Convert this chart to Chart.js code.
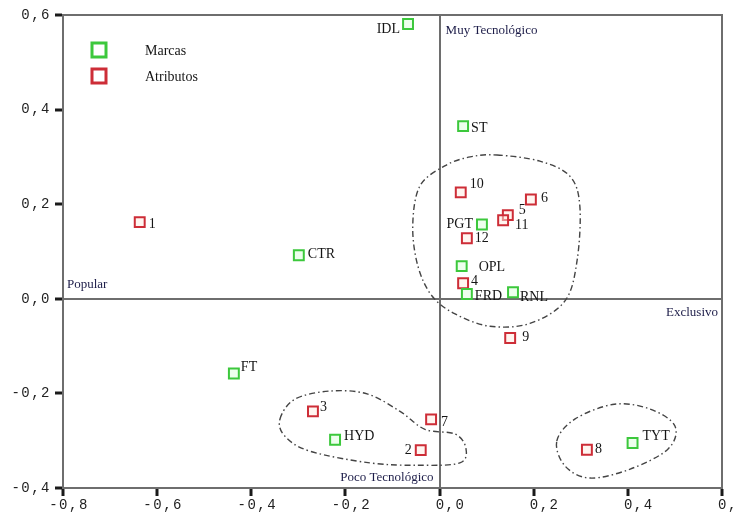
<!DOCTYPE html>
<html>
<head>
<meta charset="utf-8">
<script src="https://cdn.jsdelivr.net/npm/chart.js@4/dist/chart.umd.min.js"></script>
<style>
  html, body { margin: 0; padding: 0; background: #fff; }
</style>
</head>
<body>
<canvas id="mapa" width="734" height="518"></canvas>
<script>
// Marcas (green squares)
const marcasNames = ['IDL', 'ST', 'PGT', 'CTR', 'OPL', 'FRD', 'RNL', 'FT', 'HYD', 'TYT'];
const marcasX = [-0.067, 0.050, 0.090, -0.299, 0.047, 0.058, 0.156, -0.437, -0.222, 0.410];
const marcasY = [0.581, 0.365, 0.157, 0.092, 0.069, 0.010, 0.014, -0.158, -0.298, -0.305];

// Atributos (red squares)
const atributosNames = ['1', '2', '3', '4', '5', '6', '7', '8', '9', '10', '11', '12'];
const atributosX = [-0.637, -0.040, -0.269, 0.050, 0.145, 0.194, -0.018, 0.313, 0.150, 0.045, 0.135, 0.058];
const atributosY = [0.162, -0.320, -0.238, 0.033, 0.177, 0.210, -0.255, -0.319, -0.083, 0.225, 0.166, 0.128];

const xTicks = [-0.8, -0.6, -0.4, -0.2, 0.0, 0.2, 0.4, 0.6];
const yTicks = [-0.4, -0.2, 0.0, 0.2, 0.4, 0.6];

const quadTop = 'Muy Tecnológico';
const quadBottom = 'Poco Tecnológico';
const quadLeft = 'Popular';
const quadRight = 'Exclusivo';

// cluster outlines, in data units
const grupo1X = [0.122, 0.213, 0.277, 0.298, 0.292, 0.266, 0.192, 0.107, 0.033, -0.016, -0.046, -0.057, -0.042, 0.011, 0.065];
const grupo1Y = [0.304, 0.291, 0.259, 0.196, 0.080, -0.005, -0.052, -0.058, -0.032, 0.006, 0.069, 0.154, 0.238, 0.281, 0.300];
const grupo2X = [-0.339, -0.307, -0.233, -0.154, -0.084, -0.031, 0.033, 0.056, 0.043, -0.042, -0.148, -0.276, -0.329];
const grupo2Y = [-0.254, -0.212, -0.195, -0.201, -0.238, -0.276, -0.286, -0.316, -0.347, -0.352, -0.347, -0.322, -0.290];
const grupo3X = [0.249, 0.288, 0.371, 0.447, 0.500, 0.485, 0.405, 0.320, 0.267];
const grupo3Y = [-0.301, -0.254, -0.223, -0.233, -0.269, -0.318, -0.360, -0.379, -0.354];

// where each point label sits relative to its square (px)
const labelOffsets = {
    'IDL': [-8, 5, 'right'], 'ST': [8, 2], 'PGT': [-9, 0, 'right'], 'CTR': [9, -1],
    'OPL': [17, 1], 'FRD': [8, 2], 'RNL': [7, 5], 'FT': [7, -6], 'HYD': [9, -3], 'TYT': [10, -7],
    '1': [9, 2], '2': [-9, 0, 'right'], '3': [7, -4], '4': [8, -2], '5': [11, -5], '6': [10, -1],
    '7': [10, 3], '8': [8, 0], '9': [12, -1], '10': [9, -8], '11': [12, 5], '12': [8, 0]
};

const GREEN = 'rgb(60, 200, 60)';
const RED = 'rgb(205, 45, 55)';
const AXIS = '#6e6e6e';
const serif = '"Liberation Serif", "Times New Roman", serif';
const mono = '"Liberation Mono", "Courier New", monospace';

const toPoints = (xs, ys) => xs.map((x, i) => ({ x: x, y: ys[i] }));
const fmt = v => (Math.abs(v) < 1e-9 ? 0 : v).toFixed(1).replace('.', ',');
// x labels are fixed width, so the "0" sits over the tick
const fmtX = v => (v < -1e-9 ? '' : ' ') + fmt(v);

// dash-dot closed curves round the groups
const gruposPlugin = {
    id: 'grupos',
    beforeDatasetsDraw(chart) {
        const { ctx, scales: { x, y } } = chart;
        ctx.save();
        ctx.letterSpacing = '0px';
        // top and right frame
        ctx.strokeStyle = AXIS;
        ctx.lineWidth = 2;
        const a = chart.chartArea;
        ctx.beginPath();
        ctx.moveTo(a.left, a.top);
        ctx.lineTo(a.right, a.top);
        ctx.lineTo(a.right, a.bottom);
        ctx.stroke();

        ctx.strokeStyle = '#444';
        ctx.lineWidth = 1.4;
        ctx.setLineDash([6, 3, 1.5, 3]);
        [[grupo1X, grupo1Y], [grupo2X, grupo2Y], [grupo3X, grupo3Y]].forEach(([gx, gy]) => {
            const p = gx.map((v, i) => [x.getPixelForValue(v), y.getPixelForValue(gy[i])]);
            const n = p.length;
            ctx.beginPath();
            ctx.moveTo(p[0][0], p[0][1]);
            for (let i = 0; i < n; i++) {
                const p0 = p[(i - 1 + n) % n], p1 = p[i], p2 = p[(i + 1) % n], p3 = p[(i + 2) % n];
                ctx.bezierCurveTo(
                    p1[0] + (p2[0] - p0[0]) / 6, p1[1] + (p2[1] - p0[1]) / 6,
                    p2[0] - (p3[0] - p1[0]) / 6, p2[1] - (p3[1] - p1[1]) / 6,
                    p2[0], p2[1]);
            }
            ctx.closePath();
            ctx.stroke();
        });
        ctx.restore();
    }
};

// point names, quadrant names and the little legend
const textosPlugin = {
    id: 'textos',
    beforeDraw(chart) {
        // the original tick labels are widely spaced
        chart.ctx.letterSpacing = '1.5px';
    },
    afterDatasetsDraw(chart) {
        const { ctx, scales: { x, y } } = chart;
        const a = chart.chartArea;
        ctx.save();
        ctx.letterSpacing = '0px';
        ctx.textBaseline = 'middle';

        ctx.font = '14px ' + serif;
        ctx.fillStyle = '#151515';
        chart.data.datasets.forEach((ds, di) => {
            const meta = chart.getDatasetMeta(di);
            meta.data.forEach((pt, i) => {
                const name = ds.names[i];
                const off = labelOffsets[name] || [8, 0];
                ctx.textAlign = off[2] || 'left';
                ctx.fillText(name, pt.x + off[0], pt.y + off[1]);
            });
        });

        const x0 = x.getPixelForValue(0);
        const y0 = y.getPixelForValue(0);
        ctx.font = '13px ' + serif;
        ctx.fillStyle = '#1c1c48';
        ctx.textAlign = 'left';
        ctx.fillText(quadTop, x0 + 6, a.top + 16);
        ctx.fillText(quadLeft, a.left + 4, y0 - 14);
        ctx.textAlign = 'right';
        ctx.fillText(quadRight, a.right - 4, y0 + 14);
        ctx.fillText(quadBottom, x0 - 6, a.bottom - 10);

        // legend
        ctx.font = '14px ' + serif;
        ctx.textAlign = 'left';
        chart.data.datasets.forEach((ds, di) => {
            const cy = a.top + 35 + di * 26;
            ctx.strokeStyle = ds.borderColor;
            ctx.lineWidth = 3;
            ctx.fillStyle = '#fff';
            ctx.fillRect(a.left + 29, cy - 7, 14, 14);
            ctx.strokeRect(a.left + 29, cy - 7, 14, 14);
            ctx.fillStyle = '#151515';
            ctx.fillText(ds.label, a.left + 82, cy + 1);
        });
        ctx.restore();
    }
};

new Chart(document.getElementById('mapa').getContext('2d'), {
    type: 'scatter',
    data: {
        datasets: [
            {
                label: 'Marcas',
                names: marcasNames,
                data: toPoints(marcasX, marcasY),
                pointStyle: 'rect',
                pointRadius: 7,
                borderWidth: 2,
                borderColor: GREEN,
                backgroundColor: 'rgba(220, 255, 220, 0.5)'
            },
            {
                label: 'Atributos',
                names: atributosNames,
                data: toPoints(atributosX, atributosY),
                pointStyle: 'rect',
                pointRadius: 7,
                borderWidth: 2,
                borderColor: RED,
                backgroundColor: 'rgba(255, 235, 225, 0.5)'
            }
        ]
    },
    options: {
        responsive: false,
        devicePixelRatio: 1,
        animation: false,
        layout: { padding: { top: 15, right: 12, left: 0, bottom: 0 } },
        plugins: {
            legend: { display: false },
            tooltip: { enabled: false }
        },
        scales: {
            x: {
                min: -0.8,
                max: 0.6,
                afterBuildTicks: s => { s.ticks = xTicks.map(v => ({ value: v })); },
                afterFit: s => { s.height = 30; s.paddingLeft = 0; s.paddingRight = 0; },
                border: { display: true, color: AXIS, width: 2 },
                grid: {
                    color: c => (c.tick && Math.abs(c.tick.value) < 1e-9 ? AXIS : 'rgba(0,0,0,0)'),
                    lineWidth: 2,
                    tickColor: '#1a1a1a',
                    tickLength: 8,
                    tickWidth: 3
                },
                ticks: {
                    callback: v => fmtX(v),
                    font: { family: mono, size: 14 },
                    color: '#222',
                    padding: 1,
                    labelOffset: 6,
                    maxRotation: 0,
                    autoSkip: false
                }
            },
            y: {
                min: -0.4,
                max: 0.6,
                afterBuildTicks: s => { s.ticks = yTicks.map(v => ({ value: v })); },
                afterFit: s => { s.width = 63; s.paddingTop = 0; s.paddingBottom = 0; },
                border: { display: true, color: AXIS, width: 2 },
                grid: {
                    color: c => (c.tick && Math.abs(c.tick.value) < 1e-9 ? AXIS : 'rgba(0,0,0,0)'),
                    lineWidth: 2,
                    tickColor: '#1a1a1a',
                    tickLength: 8,
                    tickWidth: 3
                },
                ticks: {
                    callback: v => fmt(v),
                    font: { family: mono, size: 14 },
                    color: '#222',
                    padding: 4,
                    autoSkip: false
                }
            }
        }
    },
    plugins: [gruposPlugin, textosPlugin]
});
</script>
</body>
</html>
